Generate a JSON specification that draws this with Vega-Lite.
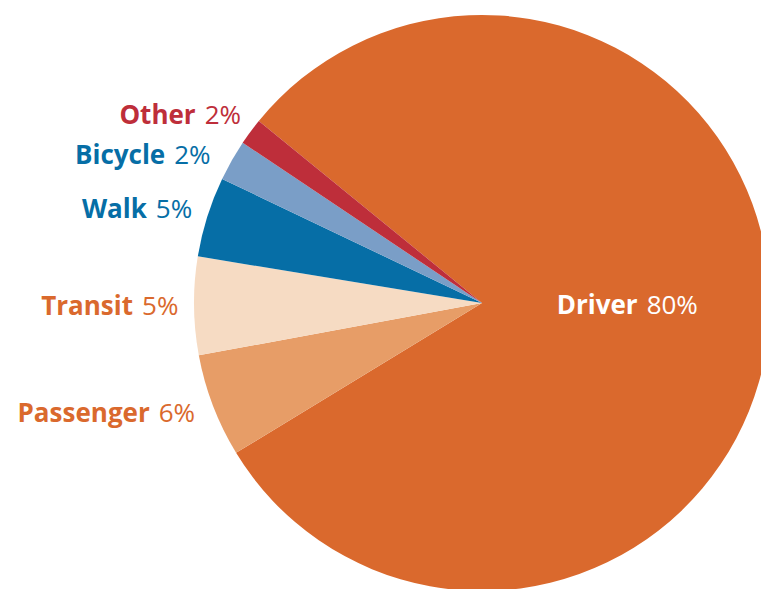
{
  "$schema": "https://vega.github.io/schema/vega-lite/v6.json",
  "width": 558,
  "height": 572,
  "autosize": {"type": "none"},
  "padding": {"left": 203, "top": 17, "right": 0, "bottom": 0},
  "background": "white",
  "view": {"stroke": null},
  "data": {
    "values": [
      {"mode": "Driver", "share": 80.4, "pct": "80%", "rank": 1},
      {"mode": "Passenger", "share": 5.8, "pct": "6%", "rank": 2},
      {"mode": "Transit", "share": 5.5, "pct": "5%", "rank": 3},
      {"mode": "Walk", "share": 4.5, "pct": "5%", "rank": 4},
      {"mode": "Bicycle", "share": 2.3, "pct": "2%", "rank": 5},
      {"mode": "Other", "share": 1.5, "pct": "2%", "rank": 6}
    ]
  },
  "encoding": {
    "theta": {"field": "share", "type": "quantitative", "stack": true, "scale": {"range": [5.3966, 11.6798]}},
    "order": {"field": "rank", "type": "quantitative"}
  },
  "layer": [
    {
      "mark": {"type": "arc", "outerRadius": 288},
      "encoding": {
        "color": {
          "field": "mode", "type": "nominal", "legend": null,
          "scale": {
            "domain": ["Driver", "Passenger", "Transit", "Walk", "Bicycle", "Other"],
            "range": ["#DA692D", "#E79D67", "#F6DBC3", "#066EA6", "#7A9EC7", "#BE2E3A"]
          }
        }
      }
    },
    {
      "mark": {
        "type": "text", "align": "right", "baseline": "middle",
        "font": "Open Sans", "fontSize": 26, "fontWeight": "bold",
        "radius": {"expr": "datum.mode === 'Driver' ? 160 : 345"},
        "dx": {"expr": "(datum.mode === 'Other' ? -5 : datum.mode === 'Bicycle' ? -13 : datum.mode === 'Walk' ? -2 : datum.mode === 'Transit' ? 0 : datum.mode === 'Passenger' ? -6 : 0) - 4"},
        "dy": {"expr": "datum.mode === 'Other' ? 18 : datum.mode === 'Bicycle' ? 24 : datum.mode === 'Walk' ? 10 : datum.mode === 'Transit' ? 1 : datum.mode === 'Passenger' ? -12 : -8"}
      },
      "encoding": {
        "text": {"field": "mode"},
        "color": {
          "field": "mode", "type": "nominal", "legend": null,
          "scale": {
            "domain": ["Driver", "Passenger", "Transit", "Walk", "Bicycle", "Other"],
            "range": ["#FFFFFF", "#DA692D", "#DA692D", "#066EA6", "#066EA6", "#BE2E3A"]
          }
        }
      }
    },
    {
      "mark": {
        "type": "text", "align": "left", "baseline": "middle",
        "font": "Open Sans", "fontSize": 26, "fontWeight": "normal",
        "radius": {"expr": "datum.mode === 'Driver' ? 160 : 345"},
        "dx": {"expr": "(datum.mode === 'Other' ? -5 : datum.mode === 'Bicycle' ? -13 : datum.mode === 'Walk' ? -2 : datum.mode === 'Transit' ? 0 : datum.mode === 'Passenger' ? -6 : 0) + 5"},
        "dy": {"expr": "datum.mode === 'Other' ? 18 : datum.mode === 'Bicycle' ? 24 : datum.mode === 'Walk' ? 10 : datum.mode === 'Transit' ? 1 : datum.mode === 'Passenger' ? -12 : -8"}
      },
      "encoding": {
        "text": {"field": "pct"},
        "color": {
          "field": "mode", "type": "nominal", "legend": null,
          "scale": {
            "domain": ["Driver", "Passenger", "Transit", "Walk", "Bicycle", "Other"],
            "range": ["#FFFFFF", "#DA692D", "#DA692D", "#066EA6", "#066EA6", "#BE2E3A"]
          }
        }
      }
    }
  ],
  "resolve": {"scale": {"color": "independent"}}
}
